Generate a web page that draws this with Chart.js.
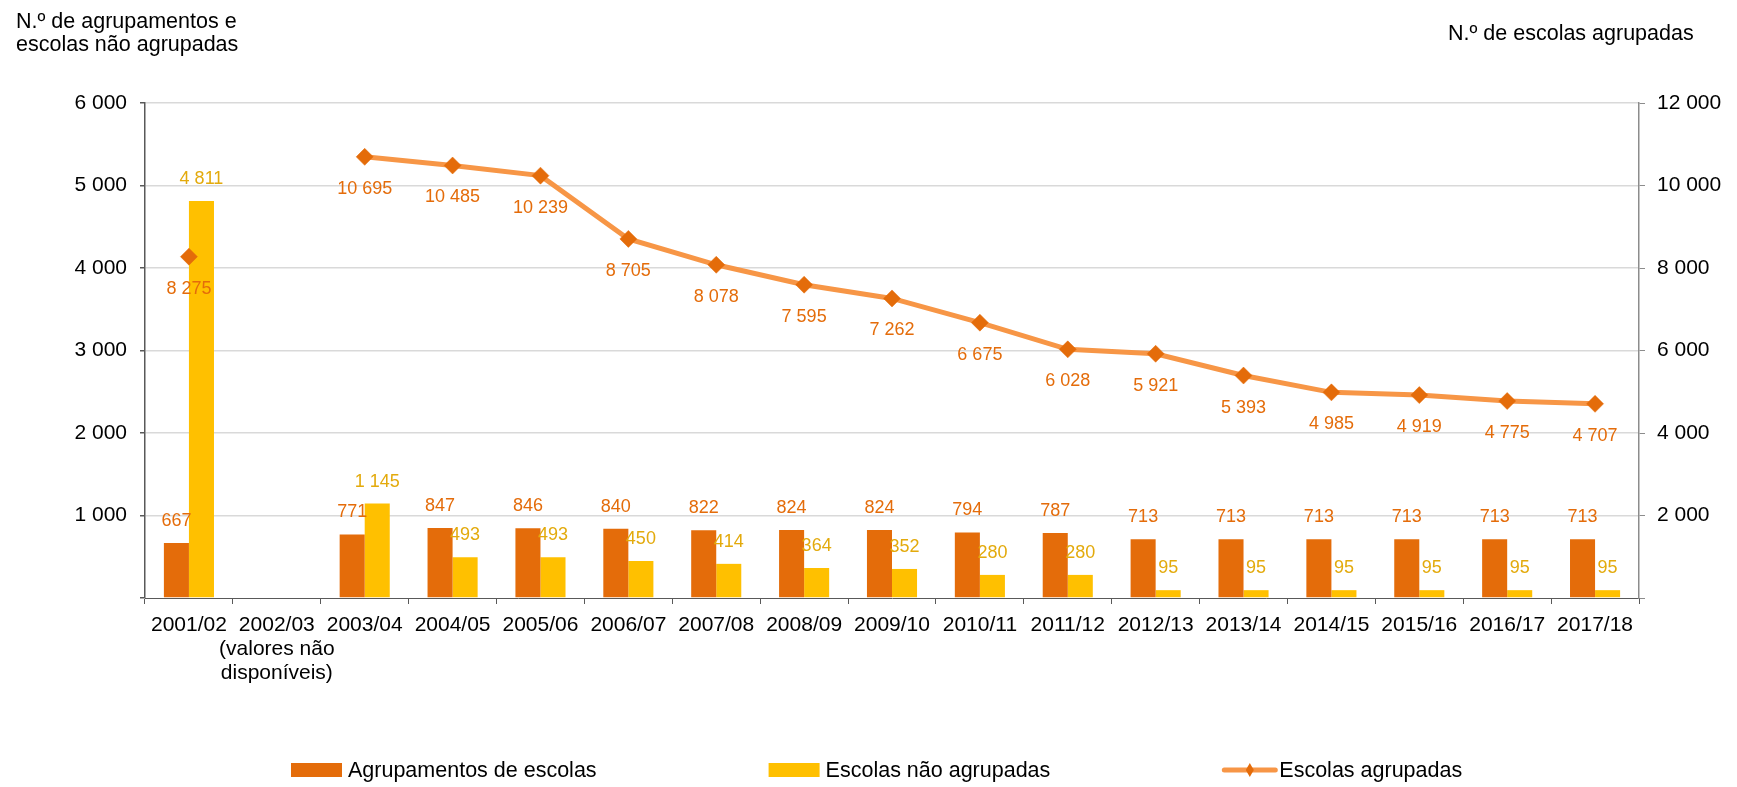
<!DOCTYPE html>
<html lang="pt">
<head>
<meta charset="utf-8">
<title>Agrupamentos de escolas e escolas não agrupadas</title>
<script src="https://cdn.jsdelivr.net/npm/chart.js@4/dist/chart.umd.min.js"></script>
<style>
  html, body { margin: 0; padding: 0; background: #ffffff; }
  canvas { display: block; }
</style>
</head>
<body>
<canvas id="chart" width="1737" height="787"></canvas>
<script>
// School years (2002/03 has no data available)
const categories = [
  '2001/02', ['2002/03', '(valores não', 'disponíveis)'], '2003/04', '2004/05', '2005/06',
  '2006/07', '2007/08', '2008/09', '2009/10', '2010/11', '2011/12', '2012/13',
  '2013/14', '2014/15', '2015/16', '2016/17', '2017/18'
];

// Number of school clusters (left axis)
const agrupamentos = [667, null, 771, 847, 846, 840, 822, 824, 824, 794, 787, 713, 713, 713, 713, 713, 713];

// Number of non-clustered schools (left axis)
const naoAgrupadas = [4811, null, 1145, 493, 493, 450, 414, 364, 352, 280, 280, 95, 95, 95, 95, 95, 95];

// Number of clustered schools (right axis)
const agrupadas = [8275, null, 10695, 10485, 10239, 8705, 8078, 7595, 7262, 6675, 6028, 5921, 5393, 4985, 4919, 4775, 4707];

const leftAxisTitle = ['N.º de agrupamentos e', 'escolas não agrupadas'];
const rightAxisTitle = 'N.º de escolas agrupadas';

const FONT = '"Liberation Sans", Arial, Helvetica, sans-serif';
const ORANGE = '#E46C0A';
const YELLOW = '#FFC000';
const LINE = '#F79646';
const YELLOW_TEXT = '#E3AA0C';

function fmt(v) {
  return String(v).replace(/\B(?=(\d{3})+(?!\d))/g, ' ');
}

// Value labels above bars and below line points
const valueLabels = {
  id: 'valueLabels',
  afterDatasetsDraw(chart) {
    const ctx = chart.ctx;
    ctx.save();
    ctx.font = '18px ' + FONT;
    ctx.textAlign = 'center';
    ctx.textBaseline = 'middle';
    chart.data.datasets.forEach((ds, i) => {
      const meta = chart.getDatasetMeta(i);
      meta.data.forEach((el, j) => {
        const v = ds.data[j];
        if (v === null || v === undefined) return;
        ctx.fillStyle = ds.labelColor;
        if (ds.type === 'line') {
          ctx.fillText(fmt(v), el.x, el.y + 32);
        } else {
          ctx.fillText(fmt(v), el.x, el.y - 22);
        }
      });
    });
    ctx.restore();
  }
};

// Axis titles and the legend row
const decorations = {
  id: 'decorations',
  afterDraw(chart) {
    const ctx = chart.ctx;
    ctx.save();
    ctx.fillStyle = '#000000';
    ctx.font = '21.5px ' + FONT;
    ctx.textAlign = 'left';
    ctx.textBaseline = 'alphabetic';
    ctx.fillText(leftAxisTitle[0], 16, 28);
    ctx.fillText(leftAxisTitle[1], 16, 51);
    ctx.fillText(rightAxisTitle, 1448, 40);

    // legend
    ctx.textBaseline = 'middle';
    const cy = 770;
    let x = 291;
    chart.data.datasets.forEach((ds) => {
      if (ds.type === 'line') {
        ctx.strokeStyle = ds.borderColor;
        ctx.lineWidth = 5;
        ctx.lineCap = 'round';
        ctx.beginPath();
        ctx.moveTo(x + 2, cy);
        ctx.lineTo(x + 53, cy);
        ctx.stroke();
        ctx.fillStyle = ds.pointBackgroundColor;
        ctx.beginPath();
        ctx.moveTo(x + 27.5 - 4, cy);
        ctx.lineTo(x + 27.5, cy - 7);
        ctx.lineTo(x + 27.5 + 4, cy);
        ctx.lineTo(x + 27.5, cy + 7);
        ctx.closePath();
        ctx.fill();
      } else {
        ctx.fillStyle = ds.backgroundColor;
        ctx.fillRect(x, cy - 7, 51, 14);
      }
      ctx.fillStyle = '#000000';
      ctx.fillText(ds.label, x + 57, cy + 1);
      x += 57 + ctx.measureText(ds.label).width + 172;
    });
    ctx.restore();
  }
};

new Chart(document.getElementById('chart'), {
  data: {
    labels: categories,
    datasets: [
      {
        type: 'bar',
        label: 'Agrupamentos de escolas',
        data: agrupamentos,
        yAxisID: 'y',
        order: 1,
        backgroundColor: ORANGE,
        barPercentage: 1,
        categoryPercentage: 0.57,
        labelColor: ORANGE
      },
      {
        type: 'bar',
        label: 'Escolas não agrupadas',
        data: naoAgrupadas,
        yAxisID: 'y',
        order: 1,
        backgroundColor: YELLOW,
        barPercentage: 1,
        categoryPercentage: 0.57,
        labelColor: YELLOW_TEXT
      },
      {
        type: 'line',
        label: 'Escolas agrupadas',
        data: agrupadas,
        yAxisID: 'y2',
        order: 0,
        borderColor: LINE,
        borderWidth: 5,
        tension: 0,
        spanGaps: false,
        pointStyle: 'rectRot',
        pointRadius: 8.5,
        pointBackgroundColor: ORANGE,
        pointBorderColor: ORANGE,
        pointBorderWidth: 0.5,
        labelColor: ORANGE
      }
    ]
  },
  options: {
    responsive: false,
    animation: false,
    devicePixelRatio: 1,
    layout: { padding: { top: 103, left: 0, right: 0, bottom: 0 } },
    plugins: {
      legend: { display: false },
      tooltip: { enabled: false },
      title: { display: false }
    },
    scales: {
      x: {
        type: 'category',
        offset: true,
        grid: {
          offset: true,
          drawOnChartArea: false,
          drawTicks: true,
          tickLength: 6,
          tickColor: '#595959'
        },
        border: { display: true, color: '#595959', width: 1 },
        ticks: {
          color: '#000000',
          font: { family: FONT, size: 21, lineHeight: 1.15 },
          padding: 9,
          maxRotation: 0,
          minRotation: 0,
          autoSkip: false
        },
        afterFit(scale) { scale.height = 189; }
      },
      y: {
        position: 'left',
        min: 0,
        max: 6000,
        grid: {
          color: (c) => (c.tick && c.tick.value === 0) ? 'rgba(0,0,0,0)' : '#d9d9d9',
          lineWidth: 1.5,
          tickLength: 5,
          tickColor: '#595959'
        },
        border: { display: true, color: '#595959', width: 1.5 },
        ticks: {
          stepSize: 1000,
          color: '#000000',
          font: { family: FONT, size: 21 },
          padding: 13,
          callback: (v) => v === 0 ? '' : fmt(v)
        },
        afterFit(scale) { scale.width = 145; }
      },
      y2: {
        position: 'right',
        min: 0,
        max: 12000,
        grid: {
          drawOnChartArea: false,
          tickLength: 6,
          tickColor: '#8c8c8c'
        },
        border: { display: true, color: '#8c8c8c', width: 1.5 },
        ticks: {
          stepSize: 2000,
          color: '#000000',
          font: { family: FONT, size: 21 },
          padding: 12,
          callback: (v) => v === 0 ? '' : fmt(v)
        },
        afterFit(scale) { scale.width = 98; }
      }
    }
  },
  plugins: [valueLabels, decorations]
});
</script>
</body>
</html>
